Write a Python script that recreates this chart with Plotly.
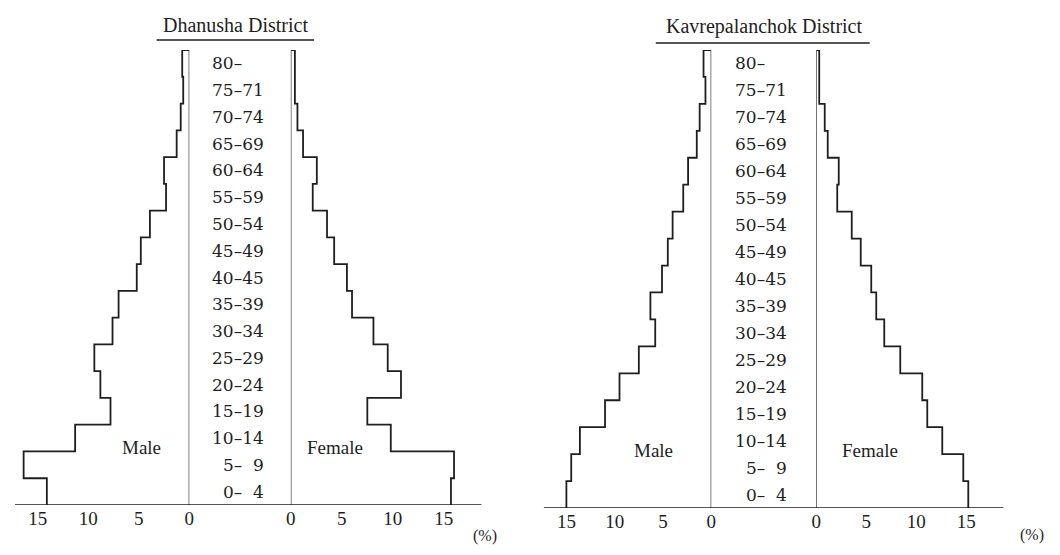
import plotly.graph_objects as go

# ---------------- data ----------------
ages = ["0–\u00a0\u00a04", "5–\u00a0\u00a09", "10–14", "15–19", "20–24", "25–29", "30–34",
        "35–39", "40–45", "45–49", "50–54", "55–59", "60–64", "65–69", "70–74",
        "75–71", "80–\u00a0\u00a0\u00a0\u00a0"]

dhanusha_male = [14.1, 16.4, 11.3, 7.8, 8.8, 9.4, 7.6, 7.0, 5.2, 4.8, 3.9, 2.3, 2.5, 1.25, 0.85, 0.6, 0.7]
dhanusha_female = [15.7, 16.0, 9.8, 7.5, 10.8, 9.5, 8.1, 6.0, 5.5, 4.25, 3.55, 2.15, 2.55, 1.2, 0.65, 0.4, 0.4]
kavre_male = [15.0, 14.5, 13.6, 11.0, 9.5, 7.5, 5.8, 6.3, 5.1, 4.5, 4.0, 2.9, 2.4, 1.5, 1.2, 0.6, 0.8]
kavre_female = [15.2, 14.7, 12.6, 11.1, 10.6, 8.4, 6.8, 6.0, 5.5, 4.45, 3.55, 2.1, 2.25, 1.15, 0.85, 0.3, 0.3]

tick_vals = [0, 5, 10, 15]
tick_text = ["0", "5", "10", "15"]
panel_titles = ["Dhanusha District", "Kavrepalanchok District"]
sex_labels = ["Male", "Female"]
unit_label = "(%)"

# ---------------- layout helpers ----------------
# page body has an 8px margin, so the figure is offset by 8px in the window
OFF = 8
FW, FH = 1044, 539
FONT = "Liberation Serif, Times New Roman, serif"
AGE_FONT = "DejaVu Serif, serif"
INK = "#1e1e1e"


def px(x):
    return (x - OFF) / FW


def py(y):
    return 1 - (y - OFF) / FH


def step_xy(vals):
    xs, ys = [], []
    for i, v in enumerate(vals):
        xs += [v, v]
        ys += [i, i + 1]
    xs.append(0)
    ys.append(len(vals))
    return xs, ys


fig = go.Figure()
n = len(ages)

series = [
    (dhanusha_male, "x", "y"),
    (dhanusha_female, "x2", "y"),
    (kavre_male, "x3", "y2"),
    (kavre_female, "x4", "y2"),
]
for vals, xa, ya in series:
    xs, ys = step_xy(vals)
    fig.add_trace(go.Scatter(x=xs, y=ys, xaxis=xa, yaxis=ya, mode="lines",
                             line=dict(color=INK, width=1.8), hoverinfo="skip",
                             showlegend=False))
    # zero (centre) line
    fig.add_trace(go.Scatter(x=[0, 0], y=[0, n], xaxis=xa, yaxis=ya, mode="lines",
                             line=dict(color="#333333", width=1.3), hoverinfo="skip",
                             showlegend=False))

xaxis_common = dict(tickvals=tick_vals, ticktext=tick_text, ticks="", showgrid=False,
                    zeroline=False, showline=False, fixedrange=True,
                    tickfont=dict(family=FONT, size=19, color=INK))

fig.update_layout(
    width=FW, height=FH,
    margin=dict(l=0, r=0, t=0, b=0),
    paper_bgcolor="white", plot_bgcolor="white",
    showlegend=False,
    yaxis=dict(domain=[py(505), py(50)], range=[0, n], visible=False, anchor="x"),
    yaxis2=dict(domain=[py(508), py(50)], range=[0, n], visible=False, anchor="x3"),
    xaxis=dict(domain=[px(10), px(186)], range=[(186 - 10) / 10.2, 0], anchor="y", **xaxis_common),
    xaxis2=dict(domain=[px(288.5), px(481)], range=[0, (481 - 288.5) / 10.3], anchor="y", **xaxis_common),
    xaxis3=dict(domain=[px(544), px(713)], range=[(713 - 544) / 9.75, 0], anchor="y2", **xaxis_common),
    xaxis4=dict(domain=[px(819), px(1008)], range=[0, (1008 - 819) / 10.1], anchor="y2", **xaxis_common),
)

# baselines
fig.add_shape(type="line", xref="paper", yref="y", x0=px(10), x1=px(481), y0=0, y1=0,
              line=dict(color=INK, width=1.5))
fig.add_shape(type="line", xref="paper", yref="y2", x0=px(544), x1=px(1008), y0=0, y1=0,
              line=dict(color=INK, width=1.5))


def label(text, x, y, size, family=FONT):
    fig.add_annotation(text=text, x=px(x), y=py(y), xref="paper", yref="paper",
                       xanchor="center", yanchor="middle", showarrow=False,
                       font=dict(family=family, size=size, color=INK))


# titles with underline
label(panel_titles[0], 233, 25, 20)
fig.add_shape(type="line", xref="paper", yref="paper", x0=px(153), x1=px(312), y0=py(40), y1=py(40),
              line=dict(color=INK, width=1.3))
label(panel_titles[1], 766, 27, 20)
fig.add_shape(type="line", xref="paper", yref="paper", x0=px(657), x1=px(873), y0=py(43), y1=py(43),
              line=dict(color=INK, width=1.3))

# age labels
for i, lab in enumerate(ages):
    fig.add_annotation(text=lab, x=px(263), y=i + 0.5, xref="paper", yref="y",
                       xanchor="right", yanchor="middle", showarrow=False,
                       font=dict(family=AGE_FONT, size=17, color=INK))
    fig.add_annotation(text=lab, x=px(791), y=i + 0.5, xref="paper", yref="y2",
                       xanchor="right", yanchor="middle", showarrow=False,
                       font=dict(family=AGE_FONT, size=17, color=INK))

# Male / Female labels
for txt, x, y in [(sex_labels[0], 138, 447), (sex_labels[1], 333, 447),
                  (sex_labels[0], 655, 450), (sex_labels[1], 873, 450)]:
    label(txt, x, y, 19)

# unit labels
label(unit_label, 485, 536, 16)
label(unit_label, 1037, 535, 16)

fig.write_html("out.html")
